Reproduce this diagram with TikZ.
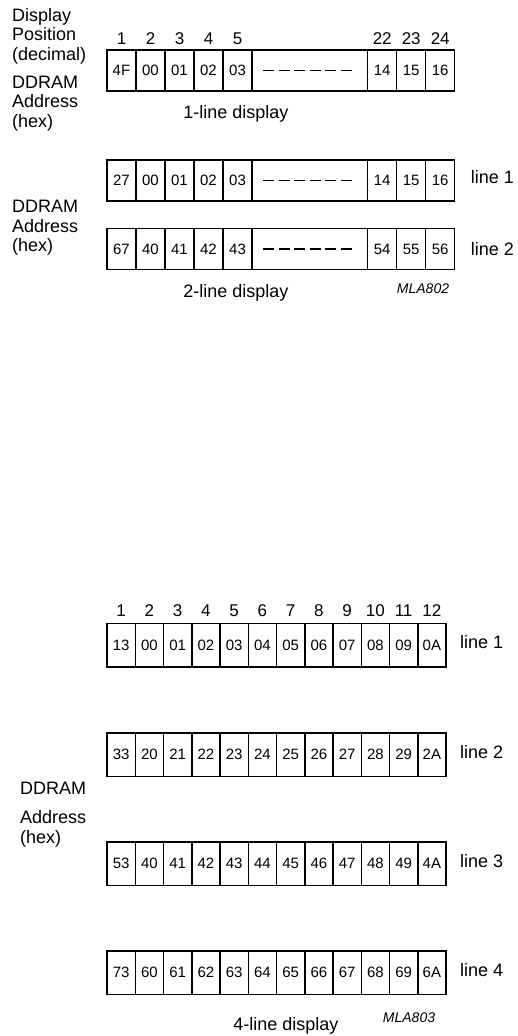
\documentclass[tikz,border=0pt]{standalone}
\usepackage{fontspec}
\setmainfont{Liberation Sans}
\usetikzlibrary{positioning,calc}

\begin{document}
\begin{tikzpicture}[
  x=1pt, y=-1pt,
  cell/.style={
    draw, line width=1.5pt, outer sep=0pt, inner sep=0pt,
    minimum width=#1, minimum height=41pt,
    font=\fontsize{15}{17}\selectfont
  },
  cell/.default=29pt,
  num/.style={inner sep=0pt, text depth=0pt, font=\fontsize{17}{19}\selectfont},
  txt/.style={inner sep=0pt, align=left, font=\fontsize{18}{19.5}\selectfont},
  tag/.style={inner sep=0pt, font=\fontsize{14}{16}\selectfont\itshape},
  gap/.style={line width=1.4pt, dash pattern=on 11pt off 4.6pt}
]
\useasboundingbox (0,0) rectangle (518,1036);

\node[txt, anchor=north west] (pos) at (12,8) {Display\\Position\\(decimal)};
\node[txt, anchor=north west] (adr1) at (12,75.5) {DDRAM\\Address\\(hex)};

\coordinate (a0) at (107,70.5);
\foreach \t/\w [count=\i, remember=\i as \j (initially 0)] in
  {4F/29,00/29,01/29,02/29,03/29,{}/115.7,14/29,15/29,16/29}{
  \node[cell=\w pt, right=0pt of a\j] (a\i) {\t};
}
\draw[gap] ([xshift=11pt]a6.west) -- ([xshift=-15.7pt]a6.east);
\foreach \i/\n in {1/1,2/2,3/3,4/4,5/5,7/22,8/23,9/24}{
  \node[num, above=5pt of a\i] (pa\i) {\n};
}
\node[txt, anchor=base] (t1) at (236,118) {1-line display};

\node[txt, anchor=north west] (adr2) at (12,200) {DDRAM\\Address\\(hex)};

\coordinate (b0) at (107,180.5);
\foreach \t/\w [count=\i, remember=\i as \j (initially 0)] in
  {27/29,00/29,01/29,02/29,03/29,{}/115.7,14/29,15/29,16/29}{
  \node[cell=\w pt, right=0pt of b\j] (b\i) {\t};
}
\coordinate (c0) at (107,249);
\foreach \t/\w [count=\i, remember=\i as \j (initially 0)] in
  {67/29,40/29,41/29,42/29,43/29,{}/115.7,54/29,55/29,56/29}{
  \node[cell=\w pt, right=0pt of c\j] (c\i) {\t};
}
\draw[gap] ([xshift=11pt]b6.west) -- ([xshift=-15.7pt]b6.east);
\draw[gap] ([xshift=11pt]c6.west) -- ([xshift=-15.7pt]c6.east);
\node[txt, right=16pt of b9, yshift=3pt] (lb) {line 1};
\node[txt, right=16pt of c9] (lc) {line 2};
\node[txt, anchor=base] (t2) at (236,297) {2-line display};
\node[tag, anchor=base] (mla2) at (423,293) {MLA802};

\node[txt, anchor=north west] (ddr4) at (20,781.7) {DDRAM};
\node[txt, anchor=north west] (adr4) at (20,810.7) {Address\\(hex)};

\foreach \r/\y/\vals [count=\k] in {
  d/645/{13,00,01,02,03,04,05,06,07,08,09,0A},
  e/754.75/{33,20,21,22,23,24,25,26,27,28,29,2A},
  f/863.75/{53,40,41,42,43,44,45,46,47,48,49,4A},
  g/972.75/{73,60,61,62,63,64,65,66,67,68,69,6A}}{
  \coordinate (\r0) at (107,\y);
  \foreach \t [count=\i, remember=\i as \j (initially 0)] in \vals{
    \node[cell=28.25pt, minimum height=43.5pt, right=0pt of \r\j] (\r\i) {\t};
  }
  \node[txt, right=14pt of \r12, yshift=3pt] (l\r) {line \k};
}
\foreach \i in {1,...,12}{
  \node[num, above=7pt of d\i] (pd\i) {\i};
}
\node[txt, anchor=base] (t4) at (286,1030) {4-line display};
\node[tag, anchor=base] (mla4) at (409,1022) {MLA803};
\end{tikzpicture}
\end{document}
